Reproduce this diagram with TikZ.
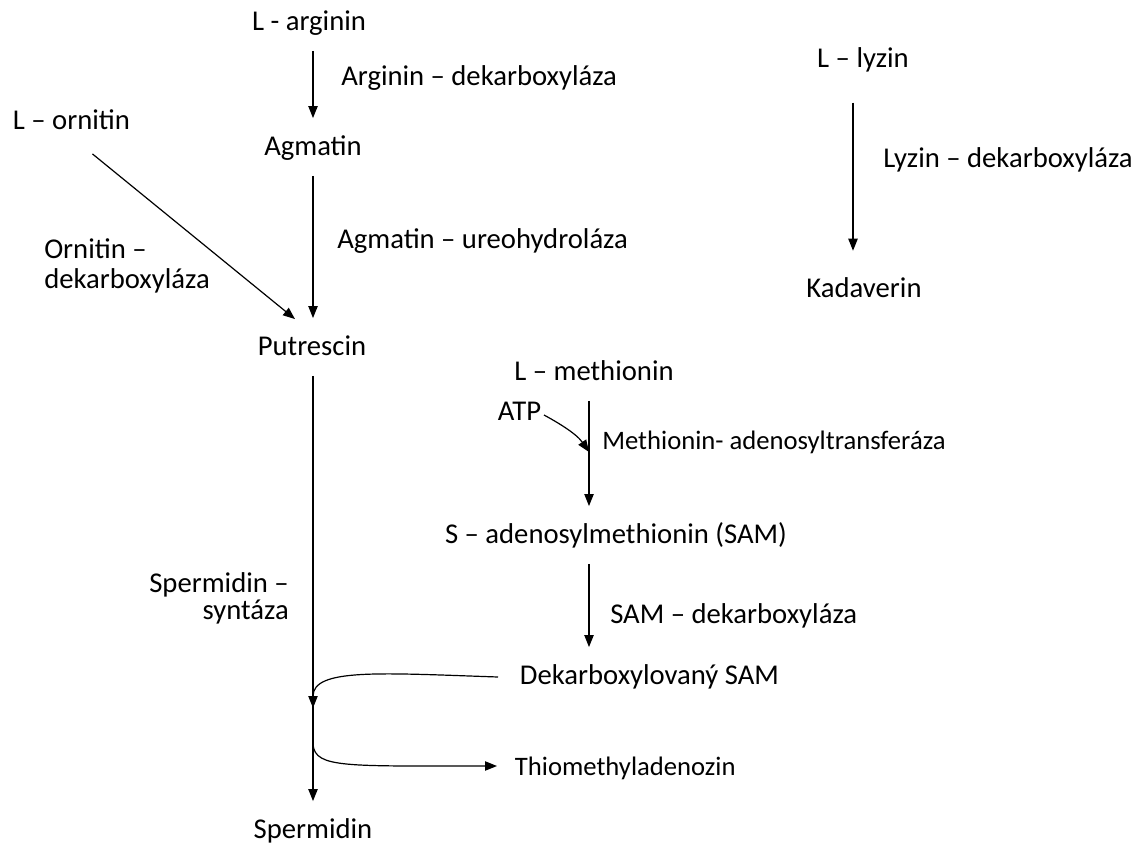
\documentclass[tikz,border=0pt]{standalone}
\usepackage{fontspec}
\setmainfont{Carlito}
\usetikzlibrary{arrows.meta,calc}

\tikzset{
  latka/.style={inner xsep=2pt, inner ysep=12pt, text height=16pt, text depth=3pt}, % latky
  enzym/.style={inner sep=0pt, anchor=base west, align=left}, % enzymy
  mensi/.style={font=\fontsize{20}{23}\selectfont},
  sipka/.style={-{Triangle[length=9pt,width=7pt]}, line width=0.9pt},
}

\begin{document}
\begin{tikzpicture}[x=0.75pt, y=-0.75pt, font=\fontsize{21.5}{23}\selectfont]
\useasboundingbox (0,0) rectangle (1144,848);

% latky
\node[latka] (arginin) at (309,22) {L - arginin};
\node[latka] (agmatin) at (313,147) {Agmatin};
\node[latka, anchor=west] (ornitin) at (10,121) {L – ornitin};
\node[latka] (putrescin) at (312,347) {Putrescin};
\node[latka] (lyzin) at (863,59) {L – lyzin};
\node[latka] (kadaverin) at (864,289) {Kadaverin};
\node[latka] (methionin) at (594,372) {L – methionin};
\node[latka, anchor=west] (atp) at (495,412) {ATP};
\node[latka] (sam) at (616,535) {S – adenosylmethionin (SAM)};
\node[latka, anchor=west] (dsam) at (517,676) {Dekarboxylovaný SAM};
\node[latka, mensi, anchor=west] (tma) at (512,767) {Thiomethyladenozin};
\node[latka] (spermidin) at (313,830) {Spermidin};

% enzymy (base = posledni radek)
\node[enzym] (argdek) at (341,86) {Arginin – dekarboxyláza};
\node[enzym] (agmur) at (337,249) {Agmatin – ureohydroláza};
\node[enzym] (orndek) at (44,289) {Ornitin –\\dekarboxyláza};
\node[enzym] (lyzdek) at (883,168) {Lyzin – dekarboxyláza};
\node[enzym, mensi] (metad) at (602,449) {Methionin- adenosyltransferáza};
\node[enzym] (samdek) at (610,623) {SAM – dekarboxyláza};
\node[enzym, anchor=base east, align=right] (sperms) at (289,619) {Spermidin –\\[-3pt]syntáza};

% body na hlavni ose
\coordinate (atpcil) at (589,452);
\coordinate (spoj) at (313,708);
\coordinate (odbocka) at (313,745);

% reakce
\draw[sipka] (arginin.south -| 313,0) -- (agmatin);
\draw[sipka] (agmatin) -- (putrescin.north -| 313,0);
\draw[sipka] ($(ornitin.south)+(21,4)$) -- ($(putrescin.north)+(-17,1)$);
\draw[sipka] (putrescin.south -| 313,0) -- (spermidin);
\draw[sipka, shorten <=11pt, shorten >=7pt] (lyzin.south -| 853,0) -- (kadaverin.north -| 853,0);
\draw[sipka] (methionin.south -| 589,0) -- (sam.north -| 589,0);
\draw[sipka] ($(atp.east)+(0,3)$) .. controls (555,421) and (576,433) .. (atpcil);
\draw[sipka] (sam.south -| 589,0) -- (dsam.north -| 589,0);
\draw[sipka] ($(dsam.west)+(-19,1)$) .. controls (380,673) and (313,668) .. (spoj);
\draw[sipka] (odbocka) .. controls (316,768) and (345,766) .. ($(tma.west)+(-15,-1)$);
\end{tikzpicture}
\end{document}
